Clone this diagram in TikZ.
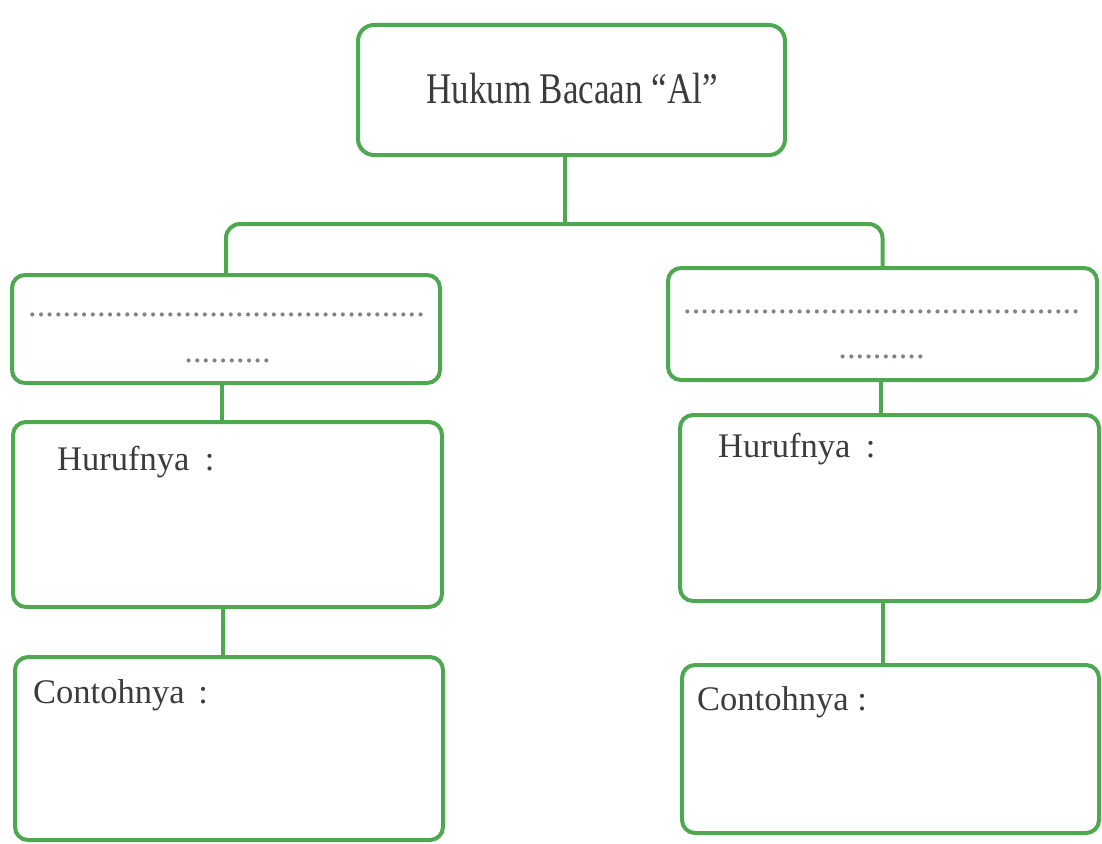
\documentclass[tikz,border=0pt]{standalone}
\usepackage{fontspec}
\usepackage{graphicx}
\setmainfont{Liberation Serif}
\definecolor{boxgreen}{RGB}{78,168,80}
\definecolor{txtgray}{RGB}{60,60,60}
\definecolor{dotgray}{RGB}{130,130,130}
\tikzset{
  box/.style={draw=boxgreen, line width=4pt, rounded corners=13pt, fill=white, inner sep=0pt},
  conn/.style={draw=boxgreen, line width=4pt},
  lbl/.style={anchor=base west, inner sep=0pt, text=txtgray, font=\fontsize{34.5}{40}\selectfont},
  dots/.style={anchor=base, inner sep=0pt, text=dotgray, font=\fontsize{34.5}{40}\selectfont},
}
\begin{document}
\begin{tikzpicture}[x=1pt,y=-1pt]
\useasboundingbox[fill=white] (0,0) rectangle (1102,843);
% boxes
\node[box, rounded corners=16pt, minimum width=427pt, minimum height=130pt] (top) at (571.5,90) {};
\node[box, minimum width=428pt, minimum height=108pt] (dl) at (226,329) {};
\node[box, minimum width=429pt, minimum height=185pt] (hl) at (227.5,514.5) {};
\node[box, minimum width=428pt, minimum height=183pt] (cl) at (229,748.5) {};
\node[box, minimum width=429pt, minimum height=112pt] (dr) at (882.5,324) {};
\node[box, minimum width=419pt, minimum height=186pt] (hr) at (889.5,508) {};
\node[box, minimum width=417pt, minimum height=168pt] (cr) at (890.5,749) {};
% connectors
\coordinate (bar) at (565,224);
\draw[conn] ([xshift=-6.5pt]top.south) -- ([xshift=-6.5pt]top.south |- bar);
\draw[conn, rounded corners=14pt] (dl.north) -- (dl.north |- bar) -- (dr.north |- bar) -- (dr.north);
\draw[conn] ([xshift=-4pt]dl.south) -- ([xshift=-4pt]dl.south |- hl.north);
\draw[conn] ([xshift=-5pt]hl.south) -- ([xshift=-5pt]hl.south |- cl.north);
\draw[conn] ([xshift=-2pt]dr.south) -- ([xshift=-2pt]dr.south |- hr.north);
\draw[conn] ([xshift=-7pt]hr.south) -- ([xshift=-7pt]hr.south |- cr.north);
% texts
\node[anchor=base, inner sep=0pt, text=txtgray, font=\fontsize{35}{40}\selectfont] (title) at (572,103) {\scalebox{1}[1.25]{Hukum Bacaan “Al”}};
\node[dots] (dl1) at (226.5,316) {..............................................};
\node[dots] (dl2) at (227.5,362) {..........};
\node[dots] (dr1) at (881.5,313) {..............................................};
\node[dots] (dr2) at (881.5,358) {..........};
\node[lbl] (hlt) at (57,470) {Hurufnya\hspace{0.45em}:};
\node[lbl] (hrt) at (718,457) {Hurufnya\hspace{0.45em}:};
\node[lbl] (clt) at (33,703) {Contohnya\hspace{0.4em}:};
\node[lbl] (crt) at (697,710) {Contohnya\hspace{0.25em}:};
\end{tikzpicture}
\end{document}
